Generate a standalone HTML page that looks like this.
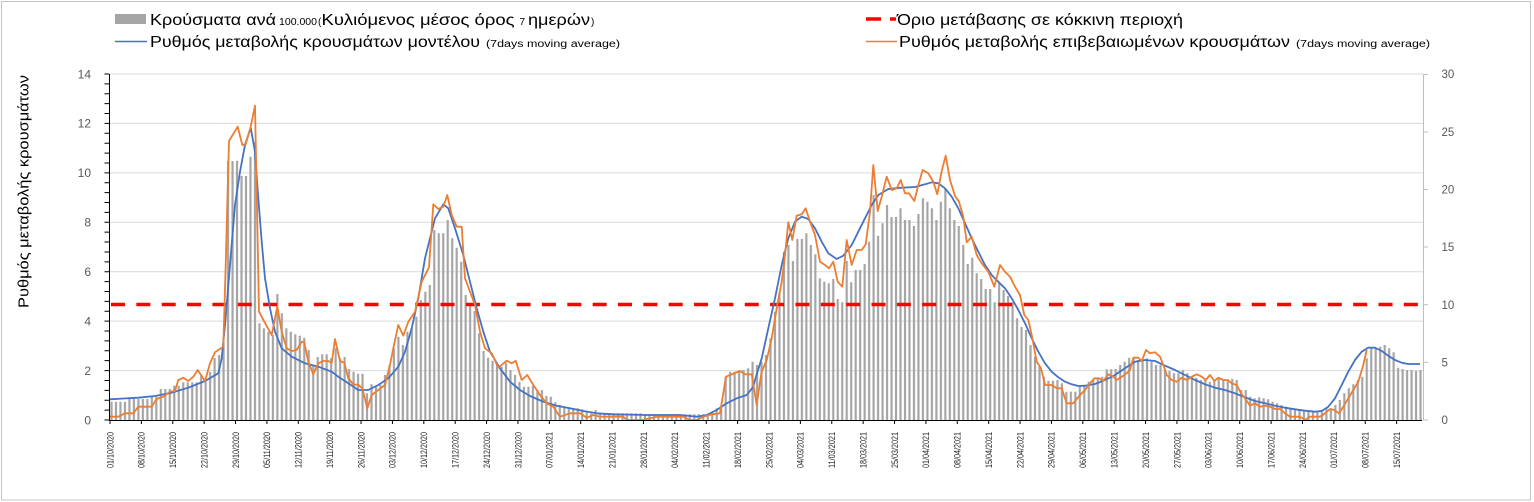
<!DOCTYPE html>
<html>
<head>
<meta charset="utf-8">
<style>
html,body{margin:0;padding:0;background:#fff;}
svg{display:block;}
text{font-family:"Liberation Sans","DejaVu Sans",sans-serif;}
</style>
</head>
<body>
<svg width="1534" height="502" viewBox="0 0 1534 502" xmlns="http://www.w3.org/2000/svg">
<defs>
<pattern id="bp" patternUnits="userSpaceOnUse" x="110" y="0" width="4.483" height="502">
<rect x="0.4" y="0" width="2.2" height="502" fill="#a5a5a5"/>
</pattern>
</defs>
<rect x="0" y="0" width="1534" height="502" fill="#fff"/>
<rect x="1.5" y="1.5" width="1529" height="498.5" fill="none" stroke="#c4c4c4" stroke-width="1"/>

<!-- gridlines -->
<g stroke="#d9d9d9" stroke-width="1">
<line x1="110" y1="74" x2="1423" y2="74"/>
<line x1="110" y1="123.4" x2="1423" y2="123.4"/>
<line x1="110" y1="172.9" x2="1423" y2="172.9"/>
<line x1="110" y1="222.3" x2="1423" y2="222.3"/>
<line x1="110" y1="271.7" x2="1423" y2="271.7"/>
<line x1="110" y1="321.1" x2="1423" y2="321.1"/>
<line x1="110" y1="370.6" x2="1423" y2="370.6"/>
</g>

<!-- bars -->
<path fill="url(#bp)" d="M109.06 420V401.7h17.932V399h22.415V396.7h8.966V389h13.449V385.7h8.966V382.3h17.932V375.7h4.483V380h4.483V371.7h4.483V358h4.483V355h4.483V343h4.483V161h8.966V160.7h4.483V176h8.966V156.7h4.483V141.7h4.483V323.3h4.483V328.3h4.483V331.7h4.483V335h4.483V294h4.483V313.3h4.483V328.3h4.483V331.7h4.483V334.3h4.483V335.7h4.483V337.7h4.483V350h4.483V365h4.483V357h4.483V354.3h8.966V358.3h4.483V348.3h4.483V358.3h4.483V357h4.483V369h4.483V371.7h4.483V373.7h8.966V393.3h4.483V384.3h4.483V385.7h4.483V385h4.483V375h4.483V365h4.483V348.3h4.483V336.7h4.483V345h4.483V331.7h4.483V328.3h4.483V316.7h4.483V300h4.483V291.7h4.483V285h4.483V230h4.483V233.3h8.966V220h4.483V238.3h4.483V247.7h4.483V261.7h4.483V295h4.483V305h4.483V311h4.483V333.3h4.483V351h4.483V357.7h4.483V360.7h4.483V365h4.483V366.7h4.483V362.7h4.483V370h4.483V375h4.483V381.7h4.483V386.7h8.966V386h4.483V390h8.966V396h4.483V396.7h4.483V402.3h4.483V405h4.483V406.7h4.483V407.7h4.483V408.3h8.966V409.3h4.483V411.7h4.483V413.3h4.483V410h4.483V413.3h44.83V414.3h67.245V411.7h4.483V408.3h4.483V406.7h4.483V376.7h4.483V371.7h8.966V371h4.483V370h4.483V368.3h4.483V361.7h4.483V365h4.483V362h4.483V355h4.483V338.3h4.483V311.7h4.483V291.7h4.483V251.7h4.483V245h4.483V261h4.483V239h8.966V233.3h4.483V245h4.483V254.3h4.483V278.3h4.483V281.7h4.483V283.3h4.483V279h4.483V299h4.483V302.3h4.483V261h4.483V282.3h4.483V270h8.966V264h4.483V241.7h4.483V195h4.483V235.7h4.483V223.3h4.483V205h4.483V217h8.966V208.3h4.483V220h8.966V226h4.483V214h4.483V198.3h4.483V201.7h4.483V208.3h4.483V220h4.483V201.7h4.483V189h4.483V208.3h4.483V220h4.483V226h4.483V245h4.483V264h4.483V257.7h4.483V273.3h4.483V279h4.483V289h8.966V302.3h4.483V283.3h4.483V290h4.483V296h4.483V302.3h4.483V318.3h4.483V327h4.483V330h4.483V345h4.483V356.7h4.483V366.7h4.483V376.7h4.483V380.7h8.966V380h4.483V383.3h4.483V391.7h13.449V386.7h4.483V386h4.483V381.7h4.483V380h4.483V378.3h4.483V376.7h4.483V369.3h8.966V369h4.483V365h4.483V361.7h4.483V357.7h4.483V358.3h4.483V360h8.966V358.3h4.483V361.7h4.483V365h8.966V369h4.483V371h4.483V373.3h8.966V370h4.483V373.3h4.483V376.7h4.483V377.7h4.483V380h8.966V381.7h4.483V381h4.483V379h4.483V380h8.966V379h4.483V380h4.483V390h8.966V396.7h4.483V398.3h4.483V397.3h4.483V398.3h4.483V399.3h4.483V401.7h4.483V403.3h4.483V405h4.483V406.7h4.483V408.3h4.483V409h4.483V410h4.483V411h4.483V411.7h13.449V410h4.483V408.3h8.966V405h4.483V400h4.483V393.3h4.483V388.3h4.483V384.3h4.483V380h4.483V376.7h4.483V358.3h4.483V348.3h4.483V347.7h4.483V346.7h4.483V345h4.483V348.3h4.483V352.3h4.483V367.7h4.483V369h4.483V370h8.966V371h4.483V370h4.483V420Z"/>

<!-- red threshold -->
<line x1="111" y1="304.5" x2="1420" y2="304.5" stroke="#ff0000" stroke-width="3.5" stroke-dasharray="14 11.35"/>

<!-- blue model line -->
<polyline fill="none" stroke="#4472c4" stroke-width="1.8" stroke-linejoin="round" points="110,399.3 138.3,397.7 155,396 171.7,392.7 188.3,387.7 205,381 218.3,373.3 221.7,358.3 225,325 230,265 235,205 240,171.7 245,145 250.7,127.7 255,151.7 258.3,198.3 261.7,241.7 265,278.3 270,308.3 275,331.7 281.7,348.3 291.7,356.7 305,363.3 318.3,366.7 331.7,371.7 338.3,376.7 348.3,383.3 358.3,390 368.3,390 378.3,385 388.3,378.3 398.3,366.7 405,351.7 411.7,328.3 418.3,298.3 425,258.3 430,238.3 435,218.3 443.3,204.3 448.3,208.3 455,228.3 463.3,255 470,281.7 476.7,308.3 483.3,331.7 490,351.7 500,368.3 510,381.7 520,390 530,396 543.3,401.7 556.7,405.7 570,408.3 583.3,411 596.7,413.3 613.3,414.3 646.7,415 680,415 696.7,416.7 706.7,415 716.7,410 726.7,403.3 736.7,398.3 746.7,395 753.3,386.7 755,380 761.7,358.3 768.3,328.3 775,298.3 781.7,265 788.3,238.3 795,221.7 801.7,216.7 808.3,219 815,228.3 821.7,241.7 828.3,253.3 836.7,259 843.3,255.7 851.7,245 858.3,231.7 865,218.3 871.7,205 878.3,195 888.3,189 901.7,187.7 915,187 925,184.3 931.7,182.3 938.3,183.3 945,188.3 951.7,196.7 958.3,208.3 965,223.3 971.7,238.3 978.3,251.7 985,265 991.7,275 998.3,281.7 1005,288.3 1011.7,298.3 1018.3,310 1025,323.3 1031.7,338.3 1038.3,351.7 1045,363.3 1051.7,371.7 1058.3,377.3 1065,381.7 1071.7,384.3 1078.3,386 1085,385.7 1095,384 1105,380 1115,375 1125,368.3 1135,361.7 1145,360 1155,361 1165,365.7 1175,370 1185,375 1195,380 1205,384.3 1215,387.7 1225,390 1235,393.3 1245,397.3 1255,401 1265,403.3 1275,405.7 1285,407.7 1295,409.3 1305,410.7 1315,411.7 1321.7,411 1328.3,406.7 1335,398.3 1341.7,385 1348.3,371.7 1355,360 1361.7,351.7 1368.3,347.7 1375,347.7 1381.7,351 1388.3,355.7 1395,360 1401.7,362.7 1408.3,364 1420,364"/>

<!-- orange confirmed line -->
<polyline fill="none" stroke="#ed7d31" stroke-width="1.8" stroke-linejoin="round" points="110,416.7 118.3,416.7 125,413.3 133.3,413.3 138.3,406.7 151.7,406.7 156.7,399 163.3,396.7 170,391.7 175,391 178.3,380 183.3,377.7 188.3,381 193.3,376.7 197.7,370 205,381 210,363.3 215,352.3 223.3,346.7 225.7,265 229,141 237.7,126.7 242.3,145 245.7,144.3 250.7,126.7 255,105.7 259,311.7 264.3,321.7 271.7,335 277.3,306.7 281.7,331.7 286.7,348.3 291.7,351 296.7,350 301.7,341.7 304.3,342.3 308.3,361.7 313.3,374.3 318.3,363.3 323.3,361 328.3,361 331.7,362.7 335,339 340,361 344.3,362.7 348.3,378.3 353.3,384.3 358.3,385 362.3,388.3 367.3,408.3 371.7,395 378.3,390 385,385 390,365 393.3,348.3 398.3,325 403.3,335.7 408.3,321.7 415,311.7 421.7,281.7 429,267.3 433.3,204.3 438.3,209 443.3,206.7 447.3,195 451.7,215 456.7,226.7 461.7,226.7 465,278.3 470,291.7 475,305 480,331.7 485,348.3 491.7,353.3 498.3,367.7 506.7,360.7 511.7,363.3 515.7,360.7 521.7,380 527.3,375 533.3,385 540,395 546.7,403.3 553.3,406.7 560,416.7 570,413.3 580,413.3 586.7,417.7 593.3,415 600,416.7 623.3,416.7 626.7,420 643.3,420 656.7,416.7 683.3,416.7 690,420 696.7,420 703.3,416.7 711.7,414.3 720,413.3 726,376.7 730,375 740,371 745,374.3 751.7,374.3 756.7,405 760,381.7 761.7,371.7 766.7,360 771.7,338.3 776.7,308.3 781.7,281.7 785,255 788.3,222.3 792.3,240 796.7,215.7 801.7,214.3 805.7,208.3 810,221.7 815,235 820,261.7 825,265 829,268.3 833.3,261.7 837.7,281.7 842.3,286.7 846.7,240 851.7,265 856.7,250 861.7,250 865.7,244.3 870,211.7 873.3,165 877.7,211 881.7,196.7 886.7,176.7 891.7,190 896.7,188.3 900.7,180 905,193.3 909,193.3 914.3,201 918.3,185 922.7,170 928.3,173.3 933.3,181.7 937.3,194.3 941.7,171 945.7,155.7 950,180 955,196 959,201.7 963.3,216.7 966.7,242.3 971.7,236.7 976.7,255 981.7,263.3 988.3,271.7 994.3,286.7 1000,265 1005,271.7 1010,276.7 1015,286.7 1020,295 1024.3,315 1028.3,320 1031.7,335 1036.7,361.7 1041,368.3 1045,385 1051.7,385 1056.7,388.3 1061.7,388.3 1066.7,403.3 1073.3,403.3 1080,395 1085,390 1090,383.3 1094.3,378.3 1099,378.3 1103.3,381 1108.3,374.3 1113.3,376.7 1116.7,380 1121.7,376.7 1126.7,373.3 1130,370 1133.3,357.7 1138.3,357.7 1141.7,361 1146,350 1150,353.3 1155,352.3 1160,356.7 1163.3,365 1166.7,375 1171.7,380 1176.7,381.7 1181.7,377.7 1186.7,380 1191.7,376.7 1196.7,374.3 1201.7,376.7 1205.7,380 1210,375 1214.3,381 1218.3,377.7 1223.3,380 1227.7,380 1231.7,383.3 1236.7,385 1241,393.3 1245,398.3 1250,405.7 1255,403.3 1260,406.7 1265,405.7 1270,406.7 1275,409 1280,409 1285,413.3 1290,416.7 1300,416.7 1305,420 1310,416.7 1320,416.7 1325,413.3 1330,409 1334.3,410 1339,413.3 1343.3,406.7 1348.3,398.3 1353.3,390 1358.3,381.7 1363.3,365 1366.7,350"/>

<!-- axes -->
<line x1="109.5" y1="74" x2="109.5" y2="420.5" stroke="#000" stroke-width="1"/>
<path d="M106.8 420.5V73.5" stroke="#000" stroke-width="4.6" stroke-dasharray="1 8.886" fill="none"/>
<line x1="109" y1="420.5" x2="1422" y2="420.5" stroke="#000" stroke-width="1"/>
<line x1="1423.5" y1="74" x2="1423.5" y2="420.5" stroke="#bfbfbf" stroke-width="1"/>
<g stroke="#bfbfbf" stroke-width="1">
<line x1="1423" y1="74.5" x2="1428" y2="74.5"/>
<line x1="1423" y1="132" x2="1428" y2="132"/>
<line x1="1423" y1="189.5" x2="1428" y2="189.5"/>
<line x1="1423" y1="247" x2="1428" y2="247"/>
<line x1="1423" y1="304.7" x2="1428" y2="304.7"/>
<line x1="1423" y1="362.3" x2="1428" y2="362.3"/>
<line x1="1423" y1="420" x2="1428" y2="420"/>
</g>
<path stroke="#000" stroke-width="1" fill="none" d="M110 420v4M141.38 420v4M172.76 420v4M204.14 420v4M235.52 420v4M266.9 420v4M298.29 420v4M329.67 420v4M361.05 420v4M392.43 420v4M423.81 420v4M455.19 420v4M486.57 420v4M517.95 420v4M549.33 420v4M580.71 420v4M612.1 420v4M643.48 420v4M674.86 420v4M706.24 420v4M737.62 420v4M769 420v4M800.38 420v4M831.76 420v4M863.14 420v4M894.52 420v4M925.91 420v4M957.29 420v4M988.67 420v4M1020.05 420v4M1051.43 420v4M1082.81 420v4M1114.19 420v4M1145.57 420v4M1176.95 420v4M1208.33 420v4M1239.72 420v4M1271.1 420v4M1302.48 420v4M1333.86 420v4M1365.24 420v4M1396.62 420v4"/>

<!-- left axis labels -->
<g font-size="12" fill="#595959" text-anchor="end">
<text x="91" y="78.3">14</text>
<text x="91" y="127.7">12</text>
<text x="91" y="177.2">10</text>
<text x="91" y="226.6">8</text>
<text x="91" y="276">6</text>
<text x="91" y="325.4">4</text>
<text x="91" y="374.9">2</text>
<text x="91" y="424.3">0</text>
</g>
<!-- right axis labels -->
<g font-size="11.5" fill="#595959">
<text x="1441.5" y="78.2">30</text>
<text x="1441.5" y="135.9">25</text>
<text x="1441.5" y="193.5">20</text>
<text x="1441.5" y="251.2">15</text>
<text x="1441.5" y="308.9">10</text>
<text x="1441.5" y="366.5">5</text>
<text x="1441.5" y="424.2">0</text>
</g>

<!-- y-axis title -->
<text transform="translate(28.5,191.5) rotate(-90)" font-size="15" fill="#000" text-anchor="middle" textLength="233" lengthAdjust="spacingAndGlyphs">Ρυθμός μεταβολής κρουσμάτων</text>

<!-- x labels -->
<g font-size="9.5" fill="#222">
<text transform="translate(113.3,468) rotate(-90)" textLength="36" lengthAdjust="spacingAndGlyphs">01/10/2020</text>
<text transform="translate(144.68,468) rotate(-90)" textLength="36" lengthAdjust="spacingAndGlyphs">08/10/2020</text>
<text transform="translate(176.06,468) rotate(-90)" textLength="36" lengthAdjust="spacingAndGlyphs">15/10/2020</text>
<text transform="translate(207.44,468) rotate(-90)" textLength="36" lengthAdjust="spacingAndGlyphs">22/10/2020</text>
<text transform="translate(238.82,468) rotate(-90)" textLength="36" lengthAdjust="spacingAndGlyphs">29/10/2020</text>
<text transform="translate(270.2,468) rotate(-90)" textLength="36" lengthAdjust="spacingAndGlyphs">05/11/2020</text>
<text transform="translate(301.59,468) rotate(-90)" textLength="36" lengthAdjust="spacingAndGlyphs">12/11/2020</text>
<text transform="translate(332.97,468) rotate(-90)" textLength="36" lengthAdjust="spacingAndGlyphs">19/11/2020</text>
<text transform="translate(364.35,468) rotate(-90)" textLength="36" lengthAdjust="spacingAndGlyphs">26/11/2020</text>
<text transform="translate(395.73,468) rotate(-90)" textLength="36" lengthAdjust="spacingAndGlyphs">03/12/2020</text>
<text transform="translate(427.11,468) rotate(-90)" textLength="36" lengthAdjust="spacingAndGlyphs">10/12/2020</text>
<text transform="translate(458.49,468) rotate(-90)" textLength="36" lengthAdjust="spacingAndGlyphs">17/12/2020</text>
<text transform="translate(489.87,468) rotate(-90)" textLength="36" lengthAdjust="spacingAndGlyphs">24/12/2020</text>
<text transform="translate(521.25,468) rotate(-90)" textLength="36" lengthAdjust="spacingAndGlyphs">31/12/2020</text>
<text transform="translate(552.63,468) rotate(-90)" textLength="36" lengthAdjust="spacingAndGlyphs">07/01/2021</text>
<text transform="translate(584.01,468) rotate(-90)" textLength="36" lengthAdjust="spacingAndGlyphs">14/01/2021</text>
<text transform="translate(615.4,468) rotate(-90)" textLength="36" lengthAdjust="spacingAndGlyphs">21/01/2021</text>
<text transform="translate(646.78,468) rotate(-90)" textLength="36" lengthAdjust="spacingAndGlyphs">28/01/2021</text>
<text transform="translate(678.16,468) rotate(-90)" textLength="36" lengthAdjust="spacingAndGlyphs">04/02/2021</text>
<text transform="translate(709.54,468) rotate(-90)" textLength="36" lengthAdjust="spacingAndGlyphs">11/02/2021</text>
<text transform="translate(740.92,468) rotate(-90)" textLength="36" lengthAdjust="spacingAndGlyphs">18/02/2021</text>
<text transform="translate(772.3,468) rotate(-90)" textLength="36" lengthAdjust="spacingAndGlyphs">25/02/2021</text>
<text transform="translate(803.68,468) rotate(-90)" textLength="36" lengthAdjust="spacingAndGlyphs">04/03/2021</text>
<text transform="translate(835.06,468) rotate(-90)" textLength="36" lengthAdjust="spacingAndGlyphs">11/03/2021</text>
<text transform="translate(866.44,468) rotate(-90)" textLength="36" lengthAdjust="spacingAndGlyphs">18/03/2021</text>
<text transform="translate(897.82,468) rotate(-90)" textLength="36" lengthAdjust="spacingAndGlyphs">25/03/2021</text>
<text transform="translate(929.21,468) rotate(-90)" textLength="36" lengthAdjust="spacingAndGlyphs">01/04/2021</text>
<text transform="translate(960.59,468) rotate(-90)" textLength="36" lengthAdjust="spacingAndGlyphs">08/04/2021</text>
<text transform="translate(991.97,468) rotate(-90)" textLength="36" lengthAdjust="spacingAndGlyphs">15/04/2021</text>
<text transform="translate(1023.35,468) rotate(-90)" textLength="36" lengthAdjust="spacingAndGlyphs">22/04/2021</text>
<text transform="translate(1054.73,468) rotate(-90)" textLength="36" lengthAdjust="spacingAndGlyphs">29/04/2021</text>
<text transform="translate(1086.11,468) rotate(-90)" textLength="36" lengthAdjust="spacingAndGlyphs">06/05/2021</text>
<text transform="translate(1117.49,468) rotate(-90)" textLength="36" lengthAdjust="spacingAndGlyphs">13/05/2021</text>
<text transform="translate(1148.87,468) rotate(-90)" textLength="36" lengthAdjust="spacingAndGlyphs">20/05/2021</text>
<text transform="translate(1180.25,468) rotate(-90)" textLength="36" lengthAdjust="spacingAndGlyphs">27/05/2021</text>
<text transform="translate(1211.63,468) rotate(-90)" textLength="36" lengthAdjust="spacingAndGlyphs">03/06/2021</text>
<text transform="translate(1243.02,468) rotate(-90)" textLength="36" lengthAdjust="spacingAndGlyphs">10/06/2021</text>
<text transform="translate(1274.4,468) rotate(-90)" textLength="36" lengthAdjust="spacingAndGlyphs">17/06/2021</text>
<text transform="translate(1305.78,468) rotate(-90)" textLength="36" lengthAdjust="spacingAndGlyphs">24/06/2021</text>
<text transform="translate(1337.16,468) rotate(-90)" textLength="36" lengthAdjust="spacingAndGlyphs">01/07/2021</text>
<text transform="translate(1368.54,468) rotate(-90)" textLength="36" lengthAdjust="spacingAndGlyphs">08/07/2021</text>
<text transform="translate(1399.92,468) rotate(-90)" textLength="36" lengthAdjust="spacingAndGlyphs">15/07/2021</text>
</g>

<!-- legend left -->
<rect x="115" y="14" width="31" height="10" fill="#a5a5a5"/>
<text x="150" y="25" font-size="16" fill="#000" textLength="126" lengthAdjust="spacingAndGlyphs">Κρούσματα ανά</text>
<text x="279" y="25" font-size="10" fill="#000" textLength="38" lengthAdjust="spacingAndGlyphs">100.000</text>
<text x="318" y="25" font-size="10" fill="#000">(</text>
<text x="321.5" y="25" font-size="16" fill="#000" textLength="193" lengthAdjust="spacingAndGlyphs">Κυλιόμενος μέσος όρος</text>
<text x="519.5" y="25" font-size="10" fill="#000">7</text>
<text x="528" y="25" font-size="16" fill="#000" textLength="62" lengthAdjust="spacingAndGlyphs">ημερών</text>
<text x="591" y="25" font-size="10" fill="#000">)</text>

<line x1="115" y1="41.5" x2="147" y2="41.5" stroke="#4472c4" stroke-width="1.5"/>
<text x="150" y="47" font-size="16" fill="#000" textLength="330" lengthAdjust="spacingAndGlyphs">Ρυθμός μεταβολής κρουσμάτων μοντέλου</text>
<text x="486" y="47" font-size="10" fill="#000" textLength="134" lengthAdjust="spacingAndGlyphs">(7days moving average)</text>

<!-- legend right -->
<line x1="866" y1="19" x2="881" y2="19" stroke="#ff0000" stroke-width="3.5"/>
<line x1="890" y1="19" x2="896" y2="19" stroke="#ff0000" stroke-width="3.5"/>
<text x="897" y="25" font-size="16" fill="#000" textLength="286" lengthAdjust="spacingAndGlyphs">Όριο μετάβασης σε κόκκινη περιοχή</text>

<line x1="866" y1="41.5" x2="897" y2="41.5" stroke="#ed7d31" stroke-width="1.5"/>
<text x="899" y="47" font-size="16" fill="#000" textLength="391" lengthAdjust="spacingAndGlyphs">Ρυθμός μεταβολής επιβεβαιωμένων κρουσμάτων</text>
<text x="1296" y="47" font-size="10" fill="#000" textLength="134" lengthAdjust="spacingAndGlyphs">(7days moving average)</text>
</svg>
</body>
</html>
